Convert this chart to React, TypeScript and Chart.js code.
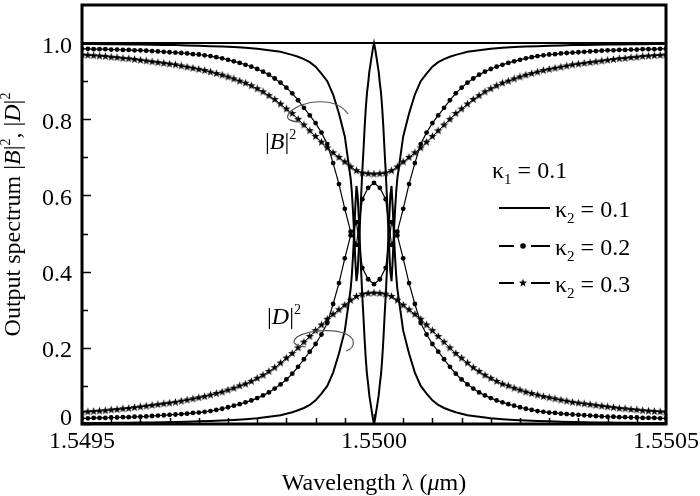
import React, { useEffect, useRef } from "react";
import { Chart, registerables } from "chart.js";
Chart.register(...registerables);

// ---------- data (offsets are in units of 1e-6 µm from the centre wavelength) ----------
const CENTER = 1.55;
const OFFSET_UNIT = 1e-6;

const solidOffsets = [0, 2, 4, 6, 8, 10, 12, 14, 16, 18, 20, 22, 24, 26, 28, 30, 32, 34, 36, 38, 40,
  50, 60, 70, 80, 90, 100, 110, 120, 130, 140, 150, 160, 170, 180, 190, 200,
  220, 240, 260, 280, 300, 320, 340, 360, 380, 400, 420, 440, 460, 480, 500];

// kappa2 = 0.1 (solid)
const bSolidHalf = [1.0, 0.985, 0.965, 0.945, 0.925, 0.895, 0.87, 0.83, 0.78, 0.72, 0.665, 0.6, 0.53, 0.46, 0.4,
  0.375, 0.43, 0.5, 0.56, 0.61, 0.645,
  0.755, 0.815, 0.865, 0.9, 0.92, 0.938, 0.95, 0.958, 0.964, 0.969, 0.973, 0.977, 0.979, 0.981, 0.983, 0.985,
  0.9875, 0.9895, 0.991, 0.992, 0.993, 0.994, 0.9947, 0.9953, 0.9958, 0.9962, 0.9966, 0.9969, 0.9972, 0.9974, 0.9976];
const dSolidHalf = [0.0, 0.015, 0.035, 0.055, 0.075, 0.105, 0.13, 0.17, 0.22, 0.28, 0.335, 0.4, 0.47, 0.54, 0.6,
  0.625, 0.57, 0.5, 0.44, 0.39, 0.355,
  0.245, 0.185, 0.135, 0.1, 0.08, 0.062, 0.05, 0.042, 0.036, 0.031, 0.027, 0.023, 0.021, 0.019, 0.017, 0.015,
  0.0125, 0.0105, 0.009, 0.008, 0.007, 0.006, 0.0053, 0.0047, 0.0042, 0.0038, 0.0034, 0.0031, 0.0028, 0.0026, 0.0024];

const markerOffsets = [0, 10, 20, 30, 40, 50, 60, 70, 80, 90, 100, 110, 120, 130, 140, 150, 160, 170, 180, 190, 200,
  210, 220, 230, 240, 250, 260, 270, 280, 290, 300, 310, 320, 330, 340, 350, 360, 370, 380, 390, 400,
  410, 420, 430, 440, 450, 460, 470, 480, 490, 500];

// kappa2 = 0.2 (dots)
const bDotHalf = [0.633, 0.62, 0.59, 0.47, 0.505, 0.565, 0.63, 0.685, 0.735, 0.765, 0.79, 0.81, 0.83, 0.85, 0.868,
  0.883, 0.896, 0.907, 0.917, 0.925, 0.932, 0.938, 0.943, 0.948, 0.952, 0.956, 0.96, 0.963, 0.966, 0.968,
  0.97, 0.971, 0.973, 0.974, 0.975, 0.976, 0.977, 0.978, 0.979, 0.98, 0.981, 0.981, 0.982, 0.982, 0.983,
  0.983, 0.984, 0.984, 0.984, 0.985, 0.985];
const dDotHalf = [0.367, 0.38, 0.41, 0.53, 0.495, 0.435, 0.37, 0.315, 0.265, 0.235, 0.21, 0.19, 0.17, 0.15, 0.132,
  0.117, 0.104, 0.093, 0.083, 0.075, 0.068, 0.062, 0.057, 0.052, 0.048, 0.044, 0.04, 0.037, 0.034, 0.032,
  0.03, 0.029, 0.027, 0.026, 0.025, 0.024, 0.023, 0.022, 0.021, 0.02, 0.019, 0.019, 0.018, 0.018, 0.017,
  0.017, 0.016, 0.016, 0.016, 0.015, 0.015];

// kappa2 = 0.3 (stars)
const bStarHalf = [0.656, 0.657, 0.659, 0.665, 0.675, 0.688, 0.7, 0.712, 0.725, 0.74, 0.755, 0.77, 0.785, 0.8, 0.815,
  0.827, 0.84, 0.852, 0.862, 0.872, 0.88, 0.888, 0.895, 0.9, 0.906, 0.911, 0.916, 0.92, 0.924, 0.928,
  0.931, 0.934, 0.937, 0.94, 0.943, 0.945, 0.947, 0.949, 0.951, 0.953, 0.955, 0.957, 0.959, 0.96, 0.962,
  0.963, 0.965, 0.966, 0.967, 0.968, 0.969];
const dStarHalf = [0.344, 0.343, 0.341, 0.335, 0.325, 0.312, 0.3, 0.288, 0.275, 0.26, 0.245, 0.23, 0.215, 0.2, 0.185,
  0.173, 0.16, 0.148, 0.138, 0.128, 0.12, 0.112, 0.105, 0.1, 0.094, 0.089, 0.084, 0.08, 0.076, 0.072,
  0.069, 0.066, 0.063, 0.06, 0.057, 0.055, 0.053, 0.051, 0.049, 0.047, 0.045, 0.043, 0.041, 0.04, 0.038,
  0.037, 0.035, 0.034, 0.033, 0.032, 0.031];

const unityX = [1.5495, 1.5505];
const unityY = [1, 1];

const xTickValues = [1.5495, 1.55, 1.5505];
const xTickLabels = ["1.5495", "1.5500", "1.5505"];
const xMinorTicks = [1.54955, 1.5496, 1.54965, 1.5497, 1.54975, 1.5498, 1.54985, 1.5499, 1.54995,
  1.55005, 1.5501, 1.55015, 1.5502, 1.55025, 1.5503, 1.55035, 1.5504, 1.55045];
const yTickValues = [0, 0.2, 0.4, 0.6, 0.8, 1.0];
const yTickLabels = ["0", "0.2", "0.4", "0.6", "0.8", "1.0"];
const yMinorTicks = [0.1, 0.3, 0.5, 0.7, 0.9];

const legendValues = ["0.1", "0.2", "0.3"];

// ---------- helpers ----------
const SERIF = '"Liberation Serif", "Times New Roman", serif';
const F = (size: number, italic = false) => `${italic ? "italic " : ""}${size}px ${SERIF}`;

function mirror(offsets: number[], half: number[]) {
  const pts: { x: number; y: number }[] = [];
  for (let i = offsets.length - 1; i > 0; i--) pts.push({ x: CENTER - offsets[i] * OFFSET_UNIT, y: half[i] });
  for (let i = 0; i < offsets.length; i++) pts.push({ x: CENTER + offsets[i] * OFFSET_UNIT, y: half[i] });
  return pts;
}

type Run = { t: string; f: string; dy?: number };
function drawRuns(ctx: CanvasRenderingContext2D, runs: Run[], x: number, y: number, align: "left" | "center" | "right") {
  let total = 0;
  const widths = runs.map((r) => {
    ctx.font = r.f;
    const w = ctx.measureText(r.t).width;
    total += w;
    return w;
  });
  let cx = align === "left" ? x : align === "center" ? x - total / 2 : x - total;
  ctx.textAlign = "left";
  ctx.textBaseline = "alphabetic";
  runs.forEach((r, i) => {
    ctx.font = r.f;
    ctx.fillText(r.t, cx, y + (r.dy || 0));
    cx += widths[i];
  });
}

function starPath(g: CanvasRenderingContext2D, x: number, y: number) {
  g.beginPath();
  for (let i = 0; i < 10; i++) {
    const r = i % 2 === 0 ? 4.3 : 1.8;
    const a = -Math.PI / 2 + (i * Math.PI) / 5;
    const px = x + r * Math.cos(a);
    const py = y + r * Math.sin(a);
    if (i === 0) g.moveTo(px, py);
    else g.lineTo(px, py);
  }
  g.closePath();
}

function makeStar(): HTMLCanvasElement {
  const c = document.createElement("canvas");
  c.width = 9;
  c.height = 9;
  const g = c.getContext("2d")!;
  g.fillStyle = "#000";
  starPath(g, 4.5, 4.5);
  g.fill();
  return c;
}

const decorPlugin = {
  id: "decor",
  beforeDraw(chart: any) {
    const ctx = chart.ctx;
    ctx.save();
    ctx.fillStyle = "#fff";
    ctx.fillRect(0, 0, chart.width, chart.height);
    ctx.restore();
  },
  afterDraw(chart: any) {
    const ctx: CanvasRenderingContext2D = chart.ctx;
    const { left, right, top, bottom } = chart.chartArea;
    const xs = chart.scales.x;
    const ys = chart.scales.y;
    ctx.save();
    ctx.strokeStyle = "#000";
    ctx.fillStyle = "#000";

    // frame
    ctx.lineWidth = 3;
    ctx.strokeRect(left, top, right - left, bottom - top);

    // inward ticks
    ctx.lineWidth = 1.5;
    ctx.beginPath();
    xTickValues.forEach((v) => {
      const px = Math.round(xs.getPixelForValue(v)) + 0.5;
      ctx.moveTo(px, bottom);
      ctx.lineTo(px, bottom - 10);
    });
    xMinorTicks.forEach((v) => {
      const px = Math.round(xs.getPixelForValue(v)) + 0.5;
      ctx.moveTo(px, bottom);
      ctx.lineTo(px, bottom - 6);
    });
    yTickValues.forEach((v) => {
      const py = Math.round(ys.getPixelForValue(v)) + 0.5;
      ctx.moveTo(left, py);
      ctx.lineTo(left + 9, py);
    });
    yMinorTicks.forEach((v) => {
      const py = Math.round(ys.getPixelForValue(v)) + 0.5;
      ctx.moveTo(left, py);
      ctx.lineTo(left + 6, py);
    });
    ctx.stroke();

    // tick labels
    ctx.font = F(24);
    ctx.textBaseline = "alphabetic";
    ctx.textAlign = "right";
    yTickValues.forEach((v, i) => {
      const py = ys.getPixelForValue(v);
      const base = v === 0 ? bottom + 1 : py + 9.5;
      ctx.fillText(yTickLabels[i], left - 10, base);
    });
    ctx.textAlign = "center";
    xTickValues.forEach((v, i) => {
      ctx.fillText(xTickLabels[i], xs.getPixelForValue(v), bottom + 24);
    });

    // axis titles
    drawRuns(ctx, [
      { t: "Wavelength \u03bb (", f: F(24) },
      { t: "\u03bc", f: F(24, true) },
      { t: "m)", f: F(24) },
    ], (left + right) / 2, 490, "center");

    ctx.save();
    ctx.translate(20, (top + bottom) / 2);
    ctx.rotate(-Math.PI / 2);
    drawRuns(ctx, [
      { t: "Output spectrum |", f: F(24) },
      { t: "B", f: F(24, true) },
      { t: "|", f: F(24) },
      { t: "2", f: F(14), dy: -10 },
      { t: ", |", f: F(24) },
      { t: "D", f: F(24, true) },
      { t: "|", f: F(24) },
      { t: "2", f: F(14), dy: -10 },
    ], 0, 0, "center");
    ctx.restore();

    // curve labels
    drawRuns(ctx, [
      { t: "|", f: F(24) },
      { t: "B", f: F(24, true) },
      { t: "|", f: F(24) },
      { t: "2", f: F(14), dy: -10 },
    ], 265, 149, "left");
    drawRuns(ctx, [
      { t: "|", f: F(24) },
      { t: "D", f: F(24, true) },
      { t: "|", f: F(24) },
      { t: "2", f: F(14), dy: -10 },
    ], 267, 324, "left");

    // leader curves
    ctx.strokeStyle = "#555";
    ctx.lineWidth = 1.2;
    ctx.beginPath();
    ctx.moveTo(300, 122);
    ctx.quadraticCurveTo(282, 121, 290, 112);
    ctx.bezierCurveTo(302, 100, 336, 96, 348, 114);
    ctx.stroke();
    ctx.beginPath();
    ctx.moveTo(306, 347);
    ctx.quadraticCurveTo(288, 345, 297, 337);
    ctx.bezierCurveTo(312, 328, 346, 328, 353, 340);
    ctx.quadraticCurveTo(355, 348, 346, 351);
    ctx.stroke();

    // legend
    ctx.strokeStyle = "#000";
    ctx.fillStyle = "#000";
    drawRuns(ctx, [
      { t: "\u03ba", f: F(24) },
      { t: "1", f: F(15), dy: 6 },
      { t: " = 0.1", f: F(24) },
    ], 492, 178, "left");
    const rowsLine = [208, 246, 283];
    ctx.lineWidth = 2;
    rowsLine.forEach((ly, i) => {
      ctx.beginPath();
      if (i === 0) {
        ctx.moveTo(499, ly);
        ctx.lineTo(550, ly);
      } else {
        ctx.moveTo(499, ly);
        ctx.lineTo(514, ly);
        ctx.moveTo(531, ly);
        ctx.lineTo(550, ly);
      }
      ctx.stroke();
      if (i === 1) {
        ctx.beginPath();
        ctx.arc(523, ly, 2.8, 0, Math.PI * 2);
        ctx.fill();
      } else if (i === 2) {
        starPath(ctx, 523, ly);
        ctx.fill();
      }
      drawRuns(ctx, [
        { t: "\u03ba", f: F(24) },
        { t: "2", f: F(15), dy: 6 },
        { t: " = " + legendValues[i], f: F(24) },
      ], 555, ly + 9, "left");
    });
    ctx.restore();
  },
};

export default function App() {
  const ref = useRef<HTMLCanvasElement>(null);
  useEffect(() => {
    document.body.style.margin = "0";
    const star = makeStar();
    const unity = unityX.map((x, i) => ({ x, y: unityY[i] }));
    const base = { tension: 0, borderColor: "#000", backgroundColor: "#000", fill: false };
    const chart = new Chart(ref.current!, {
      type: "line",
      data: {
        datasets: [
          { ...base, label: "sum", data: unity, borderWidth: 2, pointRadius: 0 },
          { ...base, label: "B k2=0.1", data: mirror(solidOffsets, bSolidHalf), borderWidth: 2, pointRadius: 0 },
          { ...base, label: "D k2=0.1", data: mirror(solidOffsets, dSolidHalf), borderWidth: 2, pointRadius: 0 },
          { ...base, label: "B k2=0.2", data: mirror(markerOffsets, bDotHalf), borderWidth: 1.2, pointRadius: 2.4, pointStyle: "circle", pointBorderWidth: 0, pointBackgroundColor: "#000" },
          { ...base, label: "D k2=0.2", data: mirror(markerOffsets, dDotHalf), borderWidth: 1.2, pointRadius: 2.4, pointStyle: "circle", pointBorderWidth: 0, pointBackgroundColor: "#000" },
          { ...base, label: "B k2=0.3", data: mirror(markerOffsets, bStarHalf), borderWidth: 1, pointRadius: 4, pointStyle: star as any },
          { ...base, label: "D k2=0.3", data: mirror(markerOffsets, dStarHalf), borderWidth: 1, pointRadius: 4, pointStyle: star as any },
        ] as any,
      },
      options: {
        responsive: false,
        devicePixelRatio: 1,
        animation: false,
        events: [],
        layout: { padding: { top: 3, right: 34, bottom: 0, left: 0 } },
        plugins: { legend: { display: false }, tooltip: { enabled: false } },
        scales: {
          x: {
            type: "linear",
            min: 1.5495,
            max: 1.5505,
            grid: { display: false },
            border: { display: false },
            ticks: { display: false },
            afterFit: (s: any) => {
              s.height = 72;
            },
          },
          y: {
            type: "linear",
            min: 0,
            max: 1.1,
            grid: { display: false },
            border: { display: false },
            ticks: { display: false },
            afterFit: (s: any) => {
              s.width = 82;
            },
          },
        },
      } as any,
      plugins: [decorPlugin],
    });
    return () => chart.destroy();
  }, []);
  return (
    <div style={{ position: "absolute", left: 0, top: 0, width: 700, height: 496 }}>
      <canvas ref={ref} width={700} height={496} style={{ display: "block" }} />
    </div>
  );
}
